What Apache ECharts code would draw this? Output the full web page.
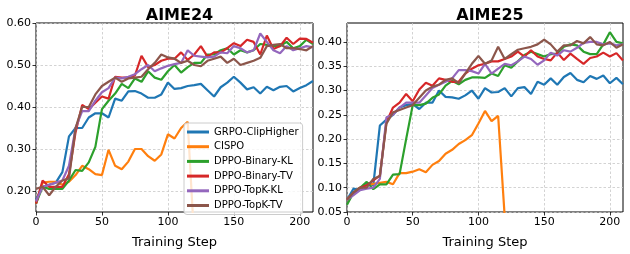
<!DOCTYPE html>
<html><head><meta charset="utf-8">
<script src="https://cdn.jsdelivr.net/npm/echarts@6/dist/echarts.min.js"></script>
<style>html,body{margin:0;padding:0;background:#fff}#c{width:630px;height:254px}</style>
</head><body><div id="c"></div>
<script>
const steps = [0,5,10,15,20,25,30,35,40,45,50,55,60,65,70,75,80,85,90,95,100,105,110,115,120,125,130,135,140,145,150,155,160,165,170,175,180,185,190,195,200,205,210];
const names = ['GRPO-ClipHigher','CISPO','DPPO-Binary-KL','DPPO-Binary-TV','DPPO-TopK-KL','DPPO-TopK-TV'];
const colors = ['#1f77b4','#ff7f0e','#2ca02c','#d62728','#9467bd','#8c564b'];
const titles = ['AIME24','AIME25'];
const xTicks = [0,50,100,150,200];
const yTicks24 = [0.2,0.3,0.4,0.5,0.6];
const yTicks25 = [0.05,0.10,0.15,0.20,0.25,0.30,0.35,0.40];

// AIME24
const a24_grpo = [0.18,0.21,0.215,0.22,0.245,0.33,0.35,0.35,0.375,0.385,0.385,0.375,0.42,0.415,0.437,0.438,0.432,0.422,0.422,0.43,0.458,0.443,0.445,0.45,0.452,0.455,0.44,0.425,0.447,0.458,0.472,0.458,0.442,0.447,0.432,0.448,0.44,0.448,0.45,0.437,0.445,0.452,0.462];
const a24_cispo = [0.17,0.22,0.222,0.222,0.215,0.222,0.238,0.26,0.252,0.24,0.238,0.298,0.26,0.252,0.27,0.3,0.3,0.283,0.272,0.287,0.335,0.325,0.35,0.365,0.08];
const a24_bkl = [0.17,0.21,0.205,0.205,0.205,0.225,0.25,0.248,0.268,0.305,0.395,0.415,0.432,0.455,0.445,0.468,0.46,0.485,0.47,0.465,0.485,0.5,0.482,0.495,0.505,0.505,0.525,0.525,0.535,0.54,0.525,0.535,0.53,0.535,0.55,0.548,0.545,0.545,0.555,0.54,0.545,0.56,0.55];
const a24_btv = [0.17,0.225,0.21,0.21,0.21,0.24,0.34,0.405,0.395,0.41,0.425,0.42,0.472,0.47,0.47,0.475,0.522,0.495,0.5,0.51,0.515,0.515,0.53,0.512,0.525,0.545,0.52,0.53,0.53,0.54,0.552,0.545,0.56,0.555,0.525,0.57,0.538,0.545,0.565,0.55,0.563,0.562,0.553];
const a24_tkl = [0.175,0.21,0.215,0.22,0.225,0.26,0.35,0.39,0.39,0.415,0.435,0.445,0.47,0.468,0.472,0.478,0.49,0.5,0.485,0.492,0.498,0.502,0.505,0.535,0.522,0.52,0.518,0.52,0.53,0.528,0.545,0.54,0.53,0.535,0.575,0.555,0.535,0.528,0.545,0.535,0.54,0.545,0.542];
const a24_ttv = [0.205,0.21,0.19,0.21,0.225,0.23,0.35,0.4,0.4,0.43,0.45,0.46,0.47,0.46,0.468,0.47,0.472,0.49,0.505,0.525,0.518,0.515,0.505,0.51,0.5,0.497,0.51,0.515,0.52,0.505,0.515,0.5,0.505,0.51,0.517,0.545,0.548,0.55,0.54,0.54,0.538,0.535,0.545];

// AIME25
const a25_grpo = [0.075,0.098,0.095,0.11,0.105,0.228,0.24,0.25,0.265,0.27,0.272,0.262,0.275,0.275,0.3,0.287,0.286,0.283,0.29,0.3,0.283,0.305,0.296,0.297,0.305,0.288,0.305,0.307,0.293,0.318,0.312,0.325,0.312,0.328,0.336,0.322,0.317,0.33,0.324,0.331,0.315,0.326,0.313];
const a25_cispo = [0.075,0.09,0.1,0.105,0.108,0.11,0.112,0.107,0.13,0.13,0.133,0.138,0.132,0.147,0.155,0.17,0.178,0.19,0.198,0.208,0.232,0.258,0.237,0.248,0.04];
const a25_bkl = [0.065,0.09,0.1,0.112,0.097,0.107,0.107,0.127,0.128,0.2,0.27,0.27,0.273,0.285,0.292,0.31,0.32,0.313,0.322,0.327,0.327,0.326,0.335,0.33,0.352,0.347,0.36,0.373,0.38,0.375,0.37,0.375,0.376,0.39,0.395,0.393,0.38,0.375,0.375,0.395,0.42,0.4,0.397];
const a25_btv = [0.075,0.09,0.1,0.105,0.115,0.125,0.235,0.265,0.275,0.293,0.278,0.302,0.316,0.31,0.325,0.322,0.318,0.318,0.335,0.345,0.352,0.355,0.36,0.36,0.365,0.37,0.38,0.37,0.383,0.37,0.365,0.362,0.378,0.363,0.376,0.365,0.355,0.367,0.37,0.378,0.37,0.377,0.362];
const a25_tkl = [0.075,0.085,0.095,0.098,0.1,0.118,0.245,0.25,0.265,0.275,0.275,0.275,0.29,0.305,0.312,0.318,0.325,0.342,0.342,0.34,0.335,0.355,0.335,0.345,0.355,0.352,0.36,0.37,0.365,0.353,0.362,0.378,0.372,0.383,0.38,0.388,0.398,0.4,0.4,0.395,0.397,0.393,0.395];
const a25_ttv = [0.075,0.09,0.1,0.1,0.118,0.124,0.232,0.255,0.26,0.265,0.27,0.285,0.3,0.308,0.312,0.322,0.325,0.315,0.335,0.355,0.371,0.355,0.362,0.39,0.365,0.375,0.384,0.387,0.39,0.395,0.405,0.395,0.38,0.393,0.393,0.402,0.397,0.41,0.395,0.393,0.4,0.388,0.395];

const data24 = [a24_grpo,a24_cispo,a24_bkl,a24_btv,a24_tkl,a24_ttv];
const data25 = [a25_grpo,a25_cispo,a25_bkl,a25_btv,a25_tkl,a25_ttv];

const font = 'DejaVu Sans';
const pairs = arr => arr.map((v,i)=>[steps[i], v]);

function xAxisCfg(gi){
  return {
    type:'value', gridIndex:gi, min:0, max:210,
    name:'Training Step', nameLocation:'middle', nameGap:24,
    nameTextStyle:{fontFamily:font, fontSize:13, color:'#000'},
    axisLine:{show:false},
    axisTick:{show:true, length:3.5, inside:false, customValues:xTicks, lineStyle:{color:'#000', width:0.8}},
    axisLabel:{customValues:xTicks, fontFamily:font, fontSize:11, color:'#000', margin:5},
    splitLine:{show:true, lineStyle:{color:'#c8c8c8', type:[2.5,2], width:0.8}}
  };
}
function yAxisCfg(gi, min, max, ticks){
  return {
    type:'value', gridIndex:gi, min:min, max:max,
    axisLine:{show:false},
    axisTick:{show:true, length:3.5, customValues:ticks, lineStyle:{color:'#000', width:0.8}},
    axisLabel:{customValues:ticks, fontFamily:font, fontSize:11, color:'#000', margin:5, formatter:v=>v.toFixed(2)},
    splitLine:{show:true, lineStyle:{color:'#c8c8c8', type:[2.5,2], width:0.8}}
  };
}

const series = [];
[data24, data25].forEach((ds, gi)=>{
  ds.forEach((arr, si)=>{
    series.push({
      name:names[si], type:'line', xAxisIndex:gi, yAxisIndex:gi,
      data:pairs(arr), showSymbol:false, symbol:'none', clip:true,
      lineStyle:{color:colors[si], width:2.2}, itemStyle:{color:colors[si]},
      animation:false
    });
  });
});

const chart = echarts.init(document.getElementById('c'), null, {renderer:'canvas'});
chart.setOption({
  animation:false,
  color:colors,
  title:[
    {text:titles[0], left:174.5, top:3, textAlign:'center', textStyle:{fontFamily:font, fontSize:16, fontWeight:'bold', color:'#000'}},
    {text:titles[1], left:485, top:3, textAlign:'center', textStyle:{fontFamily:font, fontSize:16, fontWeight:'bold', color:'#000'}}
  ],
  grid:[
    {left:36, top:23, width:277, height:199, show:true, borderColor:'#000', borderWidth:1, backgroundColor:'transparent'},
    {left:347, top:23, width:276, height:199, show:true, borderColor:'#000', borderWidth:1, backgroundColor:'transparent'}
  ],
  xAxis:[xAxisCfg(0), xAxisCfg(1)],
  yAxis:[yAxisCfg(0,0.15,0.60,yTicks24), yAxisCfg(1,0.05,0.439,yTicks25)],
  legend:{
    data:names, orient:'vertical', left:184, top:123,
    icon:'rect', itemWidth:22, itemHeight:3, itemGap:2.7, itemTextGap:7,
    padding:[3,4,3,3],
    backgroundColor:'rgba(255,255,255,0.8)', borderColor:'#ccc', borderWidth:1, borderRadius:3,
    textStyle:{fontFamily:font, fontSize:10, color:'#000', lineHeight:12}
  },
  series:series
});
</script></body></html>
